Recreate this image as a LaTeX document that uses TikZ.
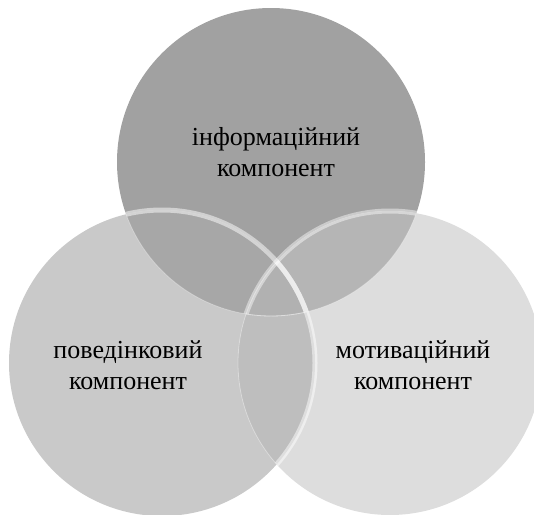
\documentclass[tikz,border=0pt]{standalone}
\usepackage{fontspec}
\setmainfont{Liberation Serif}
\definecolor{infofill}{RGB}{161,161,161}
\definecolor{behfill}{RGB}{201,201,201}
\definecolor{motfill}{RGB}{221,221,221}
\definecolor{infobeh}{RGB}{167,167,167}
\definecolor{infomot}{RGB}{181,181,181}
\definecolor{behmot}{RGB}{190,190,190}
\definecolor{allfill}{RGB}{177,177,177}
\newcommand\rinfo{154pt}
\newcommand\rbeh{153pt}
\newcommand\rmot{152pt}

\begin{document}
\begin{tikzpicture}[
  x=1pt, y=-1pt,
  compname/.style={align=center, font=\fontsize{26}{31.5}\selectfont},
  rim/.style={draw=white, line width=5pt, draw opacity=0.5},
  thinrim/.style={draw=white, line width=0.8pt, draw opacity=0.35}
]
\useasboundingbox (0,0) rectangle (534,514);
\coordinate (info) at (271,162);
\coordinate (beh) at (162,363);
\coordinate (mot) at (390,363);
\fill[infofill] (info) circle[radius=\rinfo];
\fill[behfill] (beh) circle[radius=\rbeh];
\fill[motfill] (mot) circle[radius=\rmot];
\begin{scope}
  \clip (beh) circle[radius=\rbeh];
  \fill[behmot] (mot) circle[radius=\rmot];
\end{scope}
\begin{scope}
  \clip (info) circle[radius=\rinfo];
  \fill[infobeh] (beh) circle[radius=\rbeh];
  \fill[infomot] (mot) circle[radius=\rmot];
  \clip (beh) circle[radius=\rbeh];
  \fill[allfill] (mot) circle[radius=\rmot];
\end{scope}
\begin{scope}
  \clip (info) circle[radius=\rinfo];
  \draw[rim] (beh) circle[radius=\rbeh];
  \draw[rim, draw opacity=0.45] (mot) circle[radius=\rmot];
\end{scope}
\begin{scope}
  \clip (mot) circle[radius=\rmot];
  \draw[rim] (beh) circle[radius=\rbeh];
\end{scope}
\begin{scope}
  \clip (beh) circle[radius=\rbeh];
  \draw[thinrim] (mot) circle[radius=\rmot];
  \draw[thinrim] (info) circle[radius=\rinfo];
\end{scope}
\begin{scope}
  \clip (mot) circle[radius=\rmot];
  \draw[thinrim] (info) circle[radius=\rinfo];
\end{scope}
\node[compname] (infotext) at (276,152) {інформаційний\\компонент};
\node[compname] (behtext) at (128,365) {поведінковий\\компонент};
\node[compname] (mottext) at (413,365) {мотиваційний\\компонент};
\end{tikzpicture}
\end{document}
